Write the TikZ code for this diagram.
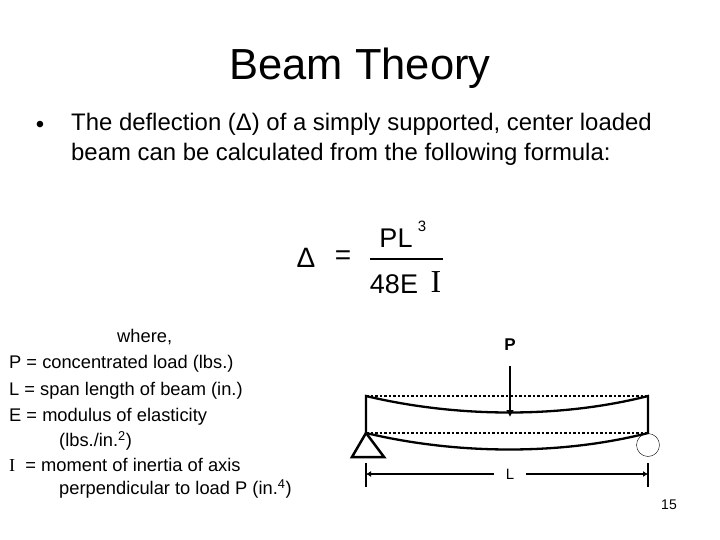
\documentclass[tikz,border=0pt]{standalone}
\usepackage{fontspec}
\usetikzlibrary{arrows.meta}
\setmainfont{Liberation Sans}
\newfontfamily\serifI{Liberation Serif}
\begin{document}
\begin{tikzpicture}[x=1pt,y=-1pt,
  txt/.style={inner sep=0pt,anchor=west,font=\fontsize{18.3}{22}\selectfont}]
\useasboundingbox[fill=white] (0,0) rectangle (720,540);
\node[inner sep=0pt,font=\fontsize{43.5}{48}\selectfont] (title) at (360,68) {Beam Theory};
\node[inner sep=0pt,font=\fontsize{24}{28}\selectfont] (b) at (40,127) {•};
\node[inner sep=0pt,anchor=north west,align=left,font=\fontsize{23.9}{30}\selectfont] (t) at (71,113) {The deflection (Δ) of a simply supported, center loaded\\beam can be calculated from the following formula:};
% formula
\node[inner sep=0pt,font=\fontsize{28}{32}\selectfont] (d) at (306,258) {Δ};
\node[inner sep=0pt,font=\fontsize{28}{32}\selectfont] (eq) at (343,258) {=};
\draw[line width=1.2pt] (370,259) coordinate (fl) -- (443,259) coordinate (fr);
\node[inner sep=0pt,font=\fontsize{27}{30}\selectfont] (pl) at (396,238) {PL};
\node[inner sep=0pt,font=\fontsize{15}{17}\selectfont] (e3) at (422,226) {3};
\node[inner sep=0pt,font=\fontsize{27}{30}\selectfont] (fe) at (394,284) {48E};
\node[inner sep=0pt,font=\serifI\fontsize{32}{36}\selectfont] (ii) at (436,282) {I};
% list
\node[txt] (w) at (117,337) {where,};
\node[txt] (l1) at (9,364) {P = concentrated load (lbs.)};
\node[txt] (l2) at (9,391) {L = span length of beam (in.)};
\node[txt] (l3) at (9,417) {E = modulus of elasticity};
\node[txt] (l4) at (59,441) {(lbs./in.\textsuperscript{2})};
\node[txt] (l5) at (9,465) {{\serifI I} \ = moment of inertia of axis};
\node[txt] (l6) at (59,489) {perpendicular to load P (in.\textsuperscript{4})};
% beam
\node[inner sep=0pt,font=\bfseries\fontsize{17}{20}\selectfont] (P) at (510,345) {P};
\coordinate (tl) at (366,396); \coordinate (tr) at (648,396);
\coordinate (bl) at (366,433); \coordinate (br) at (648,433);
\draw[line width=2.5pt,dotted] (tl) -- (tr);
\draw[line width=2.5pt,dotted] (bl) -- (br);
\draw[line width=2.3pt] (bl) -- (tl) .. controls (458,418) and (562,418) .. (tr) -- (br)
  .. controls (562,455) and (458,455) .. (bl);
\coordinate (a1) at (510,366); \coordinate (a2) at (510,417);
\draw[line width=2.5pt,-{Latex[length=7pt,width=8pt]}] (a1) -- (a2);
\draw[line width=2.5pt] (366,433) -- (384,457) -- (352,457) -- cycle;
\node[circle,draw,minimum size=23pt,inner sep=0pt] (roll) at (648,445) {};
\draw[line width=2.5pt] (366,463) -- (366,487);
\draw[line width=2.5pt] (648,463) -- (648,487);
\node[inner sep=0pt,font=\fontsize{15}{17}\selectfont] (L) at (510,474) {L};
\coordinate (dl) at (366,474); \coordinate (dr) at (648,474);
\draw[line width=2.3pt,-{Latex[length=5pt,width=6pt]}] (L.west) ++(-12,0) -- (dl);
\draw[line width=2.3pt,-{Latex[length=5pt,width=6pt]}] (L.east) ++(12,0) -- (dr);
\node[inner sep=0pt,font=\fontsize{14}{16}\selectfont] (pg) at (669,505) {15};
\end{tikzpicture}
\end{document}
